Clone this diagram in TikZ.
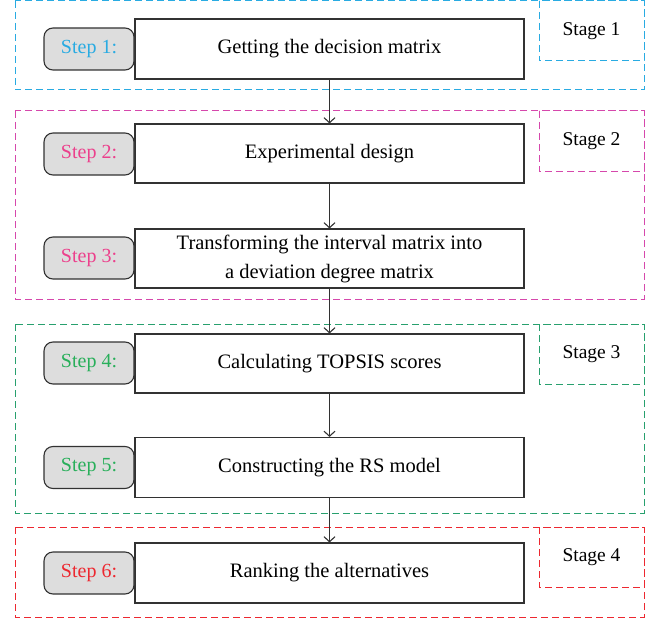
\documentclass[tikz,border=0pt]{standalone}
\usepackage{fontspec}
\setmainfont{Liberation Serif}
\usetikzlibrary{arrows.meta}
\definecolor{cA}{RGB}{41,171,226}
\definecolor{cB}{RGB}{214,72,172}
\definecolor{cBt}{RGB}{236,64,140}
\definecolor{cC}{RGB}{40,160,110}
\definecolor{cCt}{RGB}{40,175,90}
\definecolor{cD}{RGB}{237,40,48}
\definecolor{stepfill}{RGB}{221,221,221}
\definecolor{linegray}{RGB}{50,50,50}
\tikzset{
  stagebox/.style={draw=#1, line width=1pt, dash pattern=on 7pt off 4pt},
  mainbox/.style={draw=linegray, line width=1.1pt, fill=white, minimum width=389pt, minimum height=60pt, align=center, font=\fontsize{20.5}{29}\selectfont, inner sep=0pt},
  stepbox/.style={draw=linegray, line width=1.1pt, fill=stepfill, rounded corners=9pt, minimum width=90pt, minimum height=42pt, inner sep=0pt, font=\fontsize{20}{22}\selectfont, text=#1},
  stagelabel/.style={font=\fontsize{19.5}{22}\selectfont},
  flow/.style={draw=linegray, line width=1.1pt, -{Straight Barb[length=5pt,width=11pt]}}
}
\begin{document}
\begin{tikzpicture}[x=1pt,y=-1pt]
\useasboundingbox (0,0) rectangle (650,623);
% stage frames
\draw[stagebox=cA] (15,1) rectangle (644,90);
\draw[stagebox=cA] (539,1) rectangle (644,61);
\node[stagelabel] (s1) at (591.5,31) {Stage 1};
\draw[stagebox=cB] (15,111) rectangle (644,299);
\draw[stagebox=cB] (539,111) rectangle (644,171);
\node[stagelabel] (s2) at (591.5,141) {Stage 2};
\draw[stagebox=cC] (15,324) rectangle (644,513);
\draw[stagebox=cC] (539,324) rectangle (644,384);
\node[stagelabel] (s3) at (591.5,354) {Stage 3};
\draw[stagebox=cD] (15,527) rectangle (644,617);
\draw[stagebox=cD] (539,527) rectangle (644,587);
\node[stagelabel] (s4) at (591.5,557) {Stage 4};
% main boxes
\node[mainbox] (b1) at (329.5,49) {Getting the decision matrix};
\node[mainbox, minimum height=59pt] (b2) at (329.5,153.5) {Experimental design};
\node[mainbox, minimum height=59pt] (b3) at (329.5,258.5) {Transforming the interval matrix into\\a deviation degree matrix};
\node[mainbox, minimum height=59pt] (b4) at (329.5,363.5) {Calculating TOPSIS scores};
\node[mainbox] (b5) at (329.5,467.5) {Constructing the RS model};
\node[mainbox] (b6) at (329.5,573) {Ranking the alternatives};
% step boxes
\node[stepbox=cA] (t1) at (89,49) {Step 1:};
\node[stepbox=cBt] (t2) at (89,154) {Step 2:};
\node[stepbox=cBt] (t3) at (89,258) {Step 3:};
\node[stepbox=cCt] (t4) at (89,363) {Step 4:};
\node[stepbox=cCt] (t5) at (89,467.5) {Step 5:};
\node[stepbox=cD] (t6) at (89,573) {Step 6:};
% arrows
\draw[flow] (b1) -- (b2);
\draw[flow] (b2) -- (b3);
\draw[flow] (b3) -- (b4);
\draw[flow] (b4) -- (b5);
\draw[flow] (b5) -- (b6);
\end{tikzpicture}
\end{document}
